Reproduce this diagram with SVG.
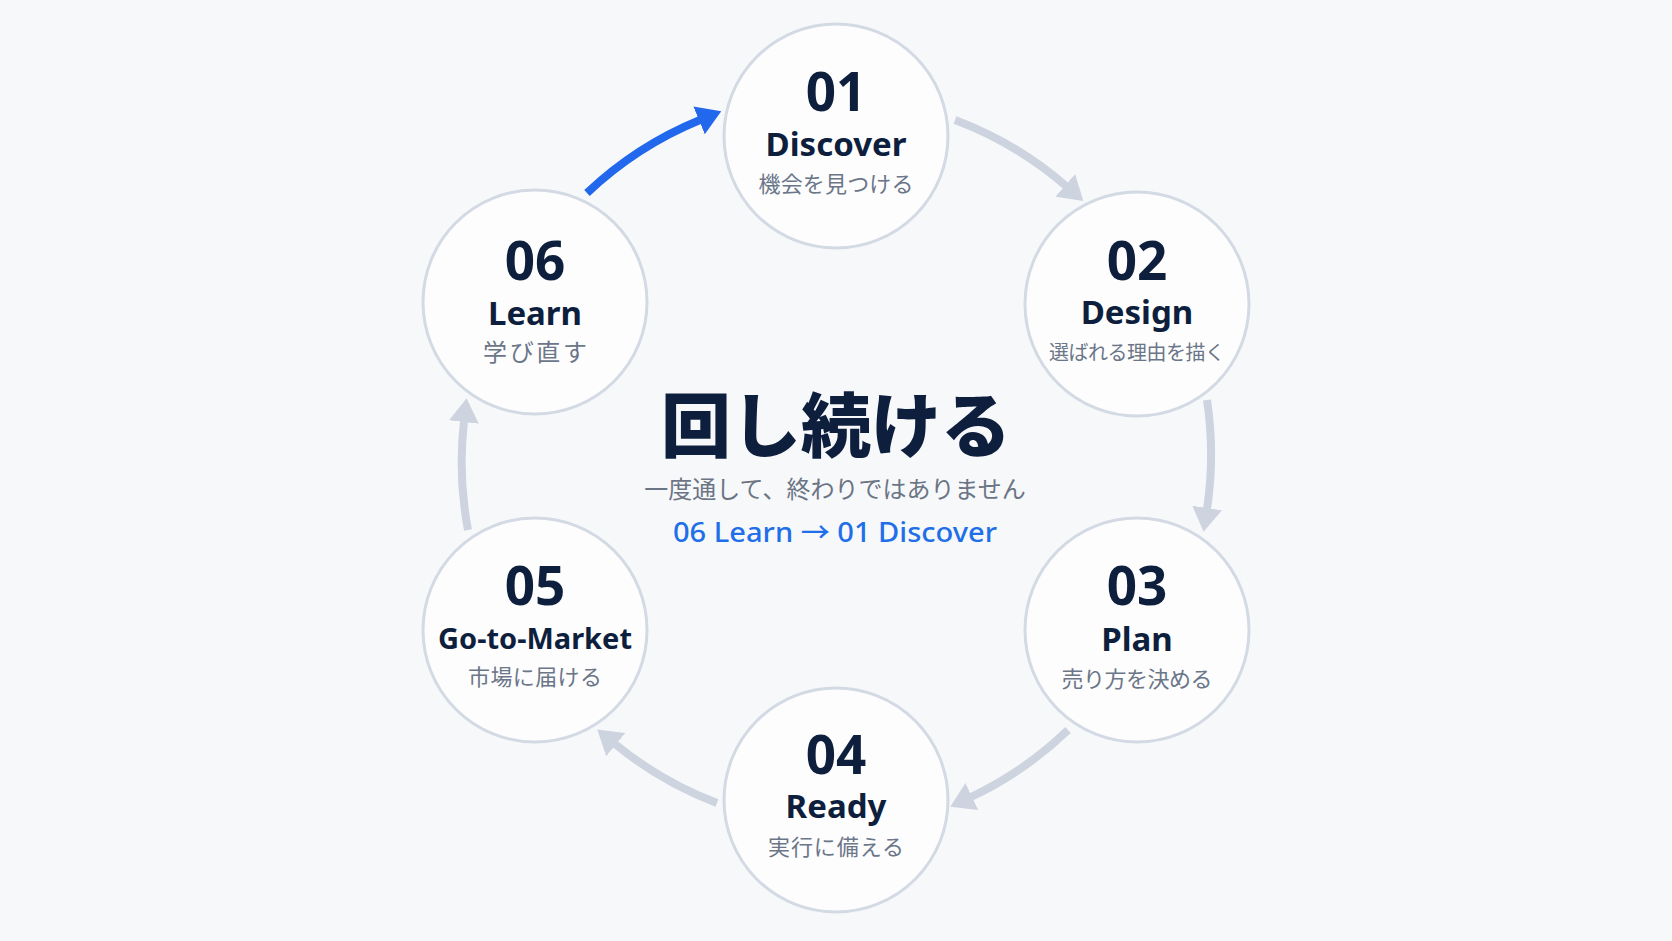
<svg xmlns="http://www.w3.org/2000/svg" width="1672" height="941" viewBox="0 0 1672 941">
  <style>
    .ring { fill: #fdfdfe; stroke: #d3dae4; stroke-width: 3; }
    .num { font-family: "Noto Sans", "Noto Sans CJK JP", sans-serif; font-weight: 700; font-size: 53px; fill: #0d1f3c; text-anchor: middle; }
    .en { font-family: "Noto Sans", "Noto Sans CJK JP", sans-serif; font-weight: 700; font-size: 33px; fill: #0d1f3c; text-anchor: middle; }
    .jp { font-family: "Noto Sans CJK JP", "Noto Sans", sans-serif; font-weight: 400; font-size: 22px; fill: #6b7688; text-anchor: middle; }
    .title { font-family: "Noto Sans CJK JP", "Noto Sans", sans-serif; font-weight: 900; font-size: 70px; fill: #0d1f3c; text-anchor: middle; }
    .sub { font-family: "Noto Sans CJK JP", "Noto Sans", sans-serif; font-weight: 400; font-size: 24px; fill: #6b7585; text-anchor: middle; }
    .loop { font-family: "Noto Sans", "Noto Sans CJK JP", sans-serif; font-weight: 500; font-size: 27px; fill: #1f6fe8; text-anchor: middle; }
    .arc { fill: none; stroke: #cdd4df; stroke-width: 8; stroke-linecap: butt; marker-end: url(#headGray); }
    .arc-blue { fill: none; stroke: #2168ec; stroke-width: 8; stroke-linecap: butt; marker-end: url(#headBlue); }
  </style>
  <defs>
    <marker id="headGray" markerUnits="userSpaceOnUse" markerWidth="24" markerHeight="30" viewBox="0 0 24 30" refX="1" refY="15" orient="auto">
      <path d="M0,0 L24,15 L0,30 Z" fill="#cdd4df"/>
    </marker>
    <marker id="headBlue" markerUnits="userSpaceOnUse" markerWidth="24" markerHeight="30" viewBox="0 0 24 30" refX="1" refY="15" orient="auto">
      <path d="M0,0 L24,15 L0,30 Z" fill="#2168ec"/>
    </marker>
  </defs>
  <rect width="1672" height="941" fill="#f7f8fa"/>

  <g id="connectors">
    <path class="arc-blue" d="M587,193 A365,365 0 0 1 700,120"/>
    <path class="arc" d="M955,120 A365,365 0 0 1 1066,186"/>
    <path class="arc" d="M1207,400 A365,365 0 0 1 1207,509"/>
    <path class="arc" d="M1068,730 A365,365 0 0 1 971,797"/>
    <path class="arc" d="M717,803 A365,365 0 0 1 615,744"/>
    <path class="arc" d="M468,530 A365,365 0 0 1 464,421"/>
  </g>

  <g id="node-01">
    <circle class="ring" cx="836" cy="136" r="112"/>
    <text class="num" x="836" y="111">01</text>
    <text class="en" x="836" y="156">Discover</text>
    <text class="jp" x="836" y="192" textLength="155" lengthAdjust="spacing">機会を見つける</text>
  </g>
  <g id="node-02">
    <circle class="ring" cx="1137" cy="304" r="112"/>
    <text class="num" x="1137" y="280">02</text>
    <text class="en" x="1137" y="324">Design</text>
    <text class="jp" x="1137" y="360" textLength="176" lengthAdjust="spacing" style="font-size:20px">選ばれる理由を描く</text>
  </g>
  <g id="node-03">
    <circle class="ring" cx="1137" cy="630" r="112"/>
    <text class="num" x="1137" y="605">03</text>
    <text class="en" x="1137" y="651">Plan</text>
    <text class="jp" x="1137" y="687" textLength="151" lengthAdjust="spacing">売り方を決める</text>
  </g>
  <g id="node-04">
    <circle class="ring" cx="836" cy="800" r="112"/>
    <text class="num" x="836" y="774">04</text>
    <text class="en" x="836" y="818">Ready</text>
    <text class="jp" x="836" y="855" textLength="136" lengthAdjust="spacing">実行に備える</text>
  </g>
  <g id="node-05">
    <circle class="ring" cx="535" cy="630" r="112"/>
    <text class="num" x="535" y="605">05</text>
    <text class="en" x="535" y="649" style="font-size:29px">Go-to-Market</text>
    <text class="jp" x="535" y="685" textLength="134" lengthAdjust="spacing">市場に届ける</text>
  </g>
  <g id="node-06">
    <circle class="ring" cx="535" cy="302" r="112"/>
    <text class="num" x="535" y="280">06</text>
    <text class="en" x="535" y="325">Learn</text>
    <text class="jp" x="535" y="361" textLength="104" lengthAdjust="spacing" style="font-size:24px">学び直す</text>
  </g>

  <g id="center">
    <text class="title" x="836" y="452">回し続ける</text>
    <text class="sub" x="835" y="498">一度通して、終わりではありません</text>
    <text class="loop" x="835" y="542" textLength="324" lengthAdjust="spacingAndGlyphs">06 Learn → 01 Discover</text>
  </g>
</svg>
